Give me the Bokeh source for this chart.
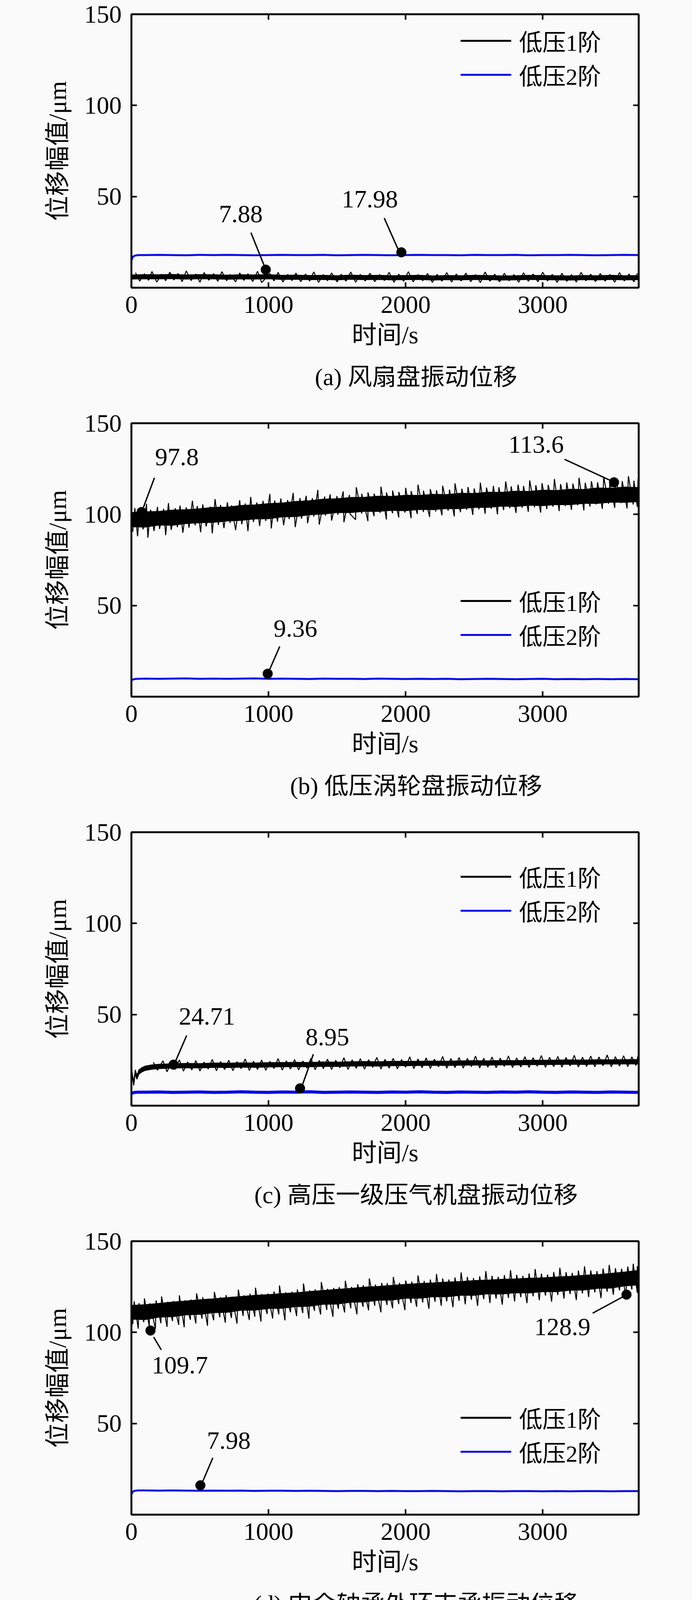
import numpy as np
from bokeh.plotting import figure
from bokeh.models import (Range1d, LinearAxis, FixedTicker, Legend, LegendItem)
from bokeh.layouts import column
from bokeh.embed import file_html
from bokeh.resources import INLINE
from bokeh.core.properties import value

FONT = "'Liberation Serif', 'Noto Sans CJK SC'"
BG = "#fafafa"
BLUE = "#0a0ae6"

# ---------------- data ----------------
x_ticks = [0, 1000, 2000, 3000]
y_ticks = [50, 100, 150]
x_title = "时间/s"
y_title = "位移幅值/μm"
series_names = ["低压1阶", "低压2阶"]
captions = ["(a) 风扇盘振动位移", "(b) 低压涡轮盘振动位移",
            "(c) 高压一级压气机盘振动位移", "(d) 中介轴承外环支承振动位移"]

t100 = list(range(0, 3701, 100))
blue_t = [0, 10, 25, 50] + list(range(100, 3701, 100))

# (a) fan disk -------------------------------------------------------------
a_lo = [4.7, 4.9, 4.8, 5.0, 4.7, 4.9, 4.8, 4.6, 4.8, 4.7, 4.9, 4.5, 4.6, 4.4, 4.5, 4.3, 4.6, 4.4, 4.5, 4.3,
        4.4, 4.5, 4.2, 4.4, 4.3, 4.5, 4.4, 4.2, 4.3, 4.5, 4.4, 4.3, 4.2, 4.4, 4.3, 4.5, 4.3, 4.4]
a_hi = [7.0, 7.2, 7.1, 7.3, 7.0, 7.2, 7.1, 6.9, 7.1, 7.0, 7.2, 6.8, 6.9, 6.7, 6.8, 6.6, 6.9, 6.7, 6.8, 6.6,
        6.7, 6.8, 6.5, 6.7, 6.6, 6.8, 6.7, 6.5, 6.6, 6.8, 6.7, 6.6, 6.5, 6.7, 6.6, 6.8, 6.6, 6.7]
a_up = [(30, 8.2), (95, 7.6), (150, 8.9), (220, 7.4), (280, 8.5), (340, 7.8), (400, 9.2), (470, 7.5),
        (530, 8.3), (600, 7.7), (660, 8.8), (720, 7.3), (790, 8.1), (850, 7.6), (920, 9.0), (1010, 7.7),
        (1070, 8.4), (1140, 7.3), (1200, 8.0), (1270, 7.5), (1330, 8.7), (1400, 7.2), (1460, 8.1),
        (1530, 7.4), (1600, 8.6), (1670, 7.3), (1740, 7.9), (1810, 7.2), (1880, 8.4), (1950, 7.4),
        (2020, 8.8), (2090, 7.2), (2160, 7.8), (2230, 7.3), (2300, 8.3), (2370, 7.5), (2440, 8.0),
        (2510, 7.2), (2580, 8.6), (2650, 7.4), (2720, 7.9), (2790, 7.2), (2860, 8.2), (2930, 7.5),
        (3000, 8.5), (3070, 7.3), (3140, 7.9), (3210, 7.2), (3280, 8.4), (3350, 7.4), (3420, 7.8),
        (3490, 7.3), (3560, 8.3), (3630, 7.5), (3690, 7.9)]
a_dn = [(60, 3.6), (125, 4.0), (185, 3.1), (250, 3.8), (310, 4.2), (370, 3.3), (435, 3.9), (500, 3.0),
        (565, 4.1), (630, 3.5), (695, 3.8), (760, 3.2), (820, 4.0), (885, 3.4), (950, 2.8), (1040, 3.7),
        (1105, 3.1), (1170, 3.9), (1235, 3.3), (1300, 3.6), (1365, 2.9), (1430, 3.8), (1500, 3.2),
        (1565, 3.6), (1635, 3.0), (1705, 3.7), (1775, 3.3), (1845, 3.9), (1915, 3.0), (1985, 3.5),
        (2055, 3.2), (2125, 3.8), (2195, 2.9), (2265, 3.6), (2335, 3.1), (2405, 3.7), (2475, 3.3),
        (2545, 2.8), (2615, 3.6), (2685, 3.2), (2755, 3.8), (2825, 3.0), (2895, 3.5), (2965, 3.2),
        (3035, 3.7), (3105, 2.9), (3175, 3.5), (3245, 3.1), (3315, 3.8), (3385, 3.3), (3455, 3.6),
        (3525, 3.0), (3595, 3.7), (3665, 3.2)]
a_blue = [14.8, 16.9, 17.6, 17.9,
          17.9, 18.0, 17.9, 17.8, 18.0, 17.9, 18.0, 17.9, 17.8, 17.9, 18.0, 17.9, 17.9, 18.0, 17.8, 17.9,
          18.0, 17.9, 17.8, 17.9, 18.0, 17.9, 17.9, 17.8, 18.0, 17.9, 17.9, 18.0, 17.8, 17.9, 17.9, 18.0,
          17.9, 17.8, 17.9, 18.0, 17.9]
a_mk_x = [980, 1969]
a_mk_y = [9.9, 19.4]
a_txt = ["7.88", "17.98"]
a_txt_x = [798, 1739]
a_txt_y = [40.4, 48.6]
a_ld = [(872, 30.2, 969, 12.0), (1844, 38.2, 1946, 20.9)]

# (b) LP turbine disk --------------------------------------------------------
b_lo = [93.2, 93.0, 94.1, 94.0, 95.0, 95.4, 95.6, 96.4, 96.7, 97.5, 97.6, 98.6, 98.8, 99.8, 100.2, 101.0,
        101.0, 101.7, 101.6, 102.2, 102.0, 102.7, 102.6, 103.2, 103.1, 103.8, 103.8, 104.5, 104.3, 105.0,
        104.8, 105.4, 105.3, 106.0, 106.0, 106.7, 106.6, 107.0]
b_hi = [101.0, 101.4, 101.6, 102.4, 102.6, 103.1, 103.9, 104.0, 104.9, 105.2, 105.9, 106.3, 107.1, 107.5,
        108.4, 108.6, 109.3, 109.4, 110.0, 109.9, 110.5, 110.4, 111.0, 110.9, 111.6, 111.5, 112.2, 112.1,
        112.7, 112.6, 113.3, 113.1, 113.8, 113.7, 114.5, 114.3, 115.0, 114.7]
b_up = [(25, 103.5), (60, 102.2), (110, 105.8), (140, 102.6), (190, 104.1), (235, 103.0), (270, 106.2),
        (320, 103.4), (355, 104.8), (400, 103.9), (445, 107.5), (480, 104.6), (520, 105.5), (575, 104.3),
        (610, 108.4), (650, 105.2), (700, 106.6), (730, 105.0), (790, 107.8), (830, 106.0), (870, 109.6),
        (915, 106.5), (960, 107.4), (1010, 111.2), (1045, 107.6), (1090, 108.7), (1140, 107.9),
        (1180, 111.8), (1230, 109.0), (1275, 110.2), (1320, 108.9), (1360, 113.4), (1410, 109.8),
        (1450, 111.0), (1500, 110.1), (1545, 112.6), (1590, 110.7), (1640, 114.9), (1680, 111.3),
        (1725, 112.1), (1770, 111.4), (1820, 115.2), (1860, 112.0), (1905, 113.1), (1950, 112.3),
        (2000, 114.6), (2040, 112.8), (2090, 116.3), (2130, 113.0), (2180, 113.9), (2225, 113.2),
        (2270, 115.7), (2320, 113.6), (2360, 117.0), (2410, 114.1), (2455, 115.0), (2500, 114.2),
        (2545, 117.4), (2590, 114.7), (2640, 115.6), (2680, 114.9), (2730, 118.1), (2770, 115.4),
        (2820, 116.3), (2860, 115.6), (2905, 118.6), (2950, 116.0), (2995, 117.1), (3040, 116.2),
        (3085, 119.4), (3130, 116.6), (3175, 117.5), (3220, 116.9), (3265, 120.1), (3310, 117.3),
        (3355, 118.2), (3400, 117.6), (3445, 120.6), (3490, 117.9), (3535, 119.0), (3580, 118.2),
        (3625, 121.0), (3665, 118.5), (3695, 119.4)]
b_dn = [(10, 90.5), (45, 88.0), (85, 91.8), (120, 87.2), (165, 90.9), (205, 92.0), (250, 88.6), (290, 91.5),
        (335, 93.0), (375, 89.9), (420, 92.7), (465, 94.0), (505, 90.2), (545, 93.4), (590, 89.6),
        (635, 94.2), (675, 92.5), (720, 95.3), (760, 91.4), (805, 94.6), (850, 90.8), (890, 95.8),
        (935, 93.6), (980, 96.4), (1020, 92.3), (1065, 96.0), (1110, 94.1), (1150, 97.4), (1195, 93.0),
        (1240, 97.6), (1285, 95.2), (1330, 98.8), (1370, 94.4), (1415, 99.3), (1460, 96.6), (1505, 99.8),
        (1550, 95.7), (1595, 100.2), (1635, 97.1), (1680, 100.4), (1725, 96.3), (1770, 99.0),
        (1815, 100.9), (1860, 97.2), (1905, 100.6), (1950, 98.3), (1995, 101.0), (2040, 97.9),
        (2085, 100.2), (2130, 101.3), (2175, 98.6), (2220, 101.6), (2265, 99.5), (2310, 102.0),
        (2355, 98.9), (2400, 101.2), (2445, 102.5), (2490, 99.7), (2535, 102.8), (2580, 100.3),
        (2625, 103.1), (2670, 100.0), (2715, 102.4), (2760, 103.4), (2805, 100.8), (2850, 103.6),
        (2895, 101.4), (2940, 103.9), (2985, 101.0), (3030, 102.9), (3075, 104.2), (3120, 101.8),
        (3165, 104.6), (3210, 102.5), (3255, 105.0), (3300, 102.2), (3345, 104.3), (3390, 105.5),
        (3435, 103.0), (3480, 105.8), (3525, 103.6), (3570, 106.2), (3615, 103.3), (3660, 105.4),
        (3690, 104.1)]
b_blue = [8.8, 9.4, 9.7, 9.8,
          9.9, 9.8, 9.9, 10.0, 9.8, 9.9, 9.8, 9.9, 10.0, 9.8, 9.9, 9.8, 9.7, 9.9, 9.8, 9.8, 9.7, 9.9, 9.8,
          9.7, 9.8, 9.7, 9.8, 9.6, 9.7, 9.8, 9.7, 9.6, 9.7, 9.8, 9.6, 9.7, 9.6, 9.7, 9.6, 9.7, 9.6]
b_mk_x = [74, 3520, 994]
b_mk_y = [101.3, 117.6, 12.6]
b_txt = ["97.8", "113.6", "9.36"]
b_txt_x = [332, 2952, 1196]
b_txt_y = [131.5, 138.4, 37.5]
b_ld = [(168, 120.1, 88, 103.9), (3159, 130.2, 3500, 118.4), (1082, 27.6, 1006, 14.5)]

# (c) HP compressor stage-1 disk --------------------------------------------
c_t = [0, 8, 17, 28, 40, 55, 75, 100, 150, 200] + list(range(300, 3701, 100))
c_lo = [19.5, 14.8, 11.0, 17.3, 14.5, 17.3, 18.4, 19.3, 20.0, 20.3,
        20.6, 20.8, 20.7, 21.0, 20.9, 21.1, 21.0, 21.2, 21.3, 21.4, 21.3, 21.6, 21.5, 21.7, 21.8, 21.7,
        21.9, 21.9, 22.0, 22.1, 22.0, 22.2, 22.3, 22.2, 22.4, 22.3, 22.5, 22.5, 22.6, 22.7, 22.6, 22.8,
        22.8, 22.9, 22.9]
c_hi = [21.5, 17.0, 13.2, 19.7, 16.7, 19.7, 20.8, 21.7, 22.4, 22.7,
        23.0, 23.2, 23.1, 23.4, 23.3, 23.5, 23.4, 23.6, 23.7, 23.8, 23.7, 24.0, 23.9, 24.1, 24.2, 24.1,
        24.3, 24.3, 24.4, 24.5, 24.4, 24.6, 24.7, 24.6, 24.8, 24.7, 24.9, 24.9, 25.0, 25.1, 25.0, 25.2,
        25.2, 25.3, 25.3]
c_up = [(160, 23.8), (230, 24.6), (290, 23.6), (350, 25.1), (410, 24.0), (470, 24.7), (530, 23.9),
        (590, 25.4), (650, 24.2), (710, 24.9), (770, 24.1), (830, 25.6), (890, 24.4), (950, 25.0),
        (1010, 24.3), (1070, 25.8), (1130, 24.6), (1190, 25.3), (1250, 24.5), (1310, 26.0), (1370, 24.8),
        (1430, 25.5), (1490, 24.9), (1550, 26.3), (1610, 25.1), (1670, 25.8), (1730, 25.2), (1790, 26.5),
        (1850, 25.4), (1910, 26.0), (1970, 25.3), (2030, 26.8), (2090, 25.6), (2150, 26.2), (2210, 25.5),
        (2270, 27.0), (2330, 25.8), (2390, 26.4), (2450, 25.9), (2510, 27.2), (2570, 26.0), (2630, 26.7),
        (2690, 26.1), (2750, 27.3), (2810, 26.2), (2870, 26.9), (2930, 26.3), (2990, 27.5), (3050, 26.5),
        (3110, 27.0), (3170, 26.4), (3230, 27.6), (3290, 26.6), (3350, 27.2), (3410, 26.7), (3470, 27.8),
        (3530, 26.9), (3590, 27.4), (3650, 26.8), (3695, 27.3)]
c_dn = [(190, 19.4), (260, 18.6), (320, 19.9), (380, 18.9), (440, 19.6), (500, 19.0), (560, 20.1),
        (620, 19.1), (680, 19.8), (740, 19.2), (800, 20.3), (860, 19.3), (920, 19.9), (980, 19.4),
        (1040, 20.4), (1100, 19.5), (1160, 20.1), (1220, 19.6), (1280, 20.6), (1340, 19.7), (1400, 20.3),
        (1460, 19.8), (1520, 20.8), (1580, 19.9), (1640, 20.5), (1700, 20.0), (1760, 21.0), (1820, 20.1),
        (1880, 20.6), (1940, 20.2), (2000, 21.1), (2060, 20.3), (2120, 20.8), (2180, 20.4), (2240, 21.3),
        (2300, 20.5), (2360, 20.9), (2420, 20.6), (2480, 21.4), (2540, 20.7), (2600, 21.1), (2660, 20.8),
        (2720, 21.5), (2780, 20.9), (2840, 21.2), (2900, 21.0), (2960, 21.7), (3020, 21.0), (3080, 21.4),
        (3140, 21.1), (3200, 21.8), (3260, 21.2), (3320, 21.5), (3380, 21.3), (3440, 21.9), (3500, 21.3),
        (3560, 21.7), (3620, 21.4), (3680, 22.0)]
c_blue = [6.6, 7.0, 7.3, 7.4,
          7.4, 7.5, 7.3, 7.4, 7.5, 7.3, 7.4, 7.6, 7.4, 7.3, 7.5, 7.4, 7.6, 7.3, 7.4, 7.5, 7.4, 7.3, 7.5,
          7.4, 7.6, 7.4, 7.3, 7.5, 7.4, 7.3, 7.5, 7.4, 7.6, 7.4, 7.3, 7.5, 7.4, 7.3, 7.5, 7.4, 7.3]
c_mk_x = [307, 1230]
c_mk_y = [22.5, 9.5]
c_txt = ["24.71", "8.95"]
c_txt_x = [551, 1429]
c_txt_y = [49.0, 37.7]
c_ld = [(403, 38.5, 321, 24.2), (1327, 28.2, 1244, 10.7)]

# (d) intershaft bearing outer-ring support ----------------------------------
d_lo = [107.2, 107.0, 108.3, 108.6, 109.6, 109.9, 110.8, 111.0, 112.1, 112.2, 113.1, 113.2, 114.1, 114.3,
        115.4, 115.5, 116.5, 116.7, 117.6, 117.7, 118.7, 118.7, 119.5, 119.5, 120.3, 120.3, 121.1, 121.0,
        121.7, 121.6, 122.3, 122.3, 123.1, 123.2, 124.1, 124.3, 125.5, 126.0]
d_hi = [114.8, 115.2, 115.9, 116.6, 117.2, 117.9, 118.4, 119.1, 119.7, 120.3, 120.7, 121.3, 121.7, 122.4,
        123.0, 123.6, 124.1, 124.8, 125.2, 125.8, 126.3, 126.8, 127.1, 127.6, 127.9, 128.4, 128.7, 129.1,
        129.3, 129.7, 129.9, 130.4, 130.7, 131.3, 131.7, 132.4, 133.1, 134.0]
d_up = [(20, 117.0), (55, 116.0), (95, 118.6), (135, 115.9), (180, 117.5), (220, 119.7), (265, 116.8),
        (305, 117.2), (350, 120.3), (390, 117.6), (435, 118.0), (475, 121.4), (520, 119.3), (560, 118.5),
        (605, 122.2), (650, 119.3), (690, 120.4), (735, 119.6), (780, 123.4), (820, 120.3), (865, 121.2),
        (905, 124.5), (950, 121.0), (995, 121.3), (1040, 122.4), (1080, 125.7), (1125, 122.0), (1170, 122.3),
        (1210, 123.5), (1255, 126.8), (1300, 123.1), (1340, 123.6), (1385, 127.6), (1430, 123.9),
        (1475, 124.4), (1515, 124.8), (1560, 128.3), (1605, 125.0), (1650, 126.4), (1690, 125.9),
        (1735, 129.6), (1780, 126.2), (1825, 127.1), (1865, 127.0), (1910, 130.4), (1955, 127.2),
        (2000, 128.4), (2045, 127.8), (2090, 131.2), (2135, 128.2), (2180, 129.0), (2225, 132.0),
        (2270, 129.6), (2315, 129.0), (2360, 130.1), (2405, 132.9), (2450, 130.4), (2495, 129.8),
        (2540, 130.7), (2585, 133.6), (2630, 131.0), (2675, 130.5), (2720, 131.4), (2765, 134.1),
        (2810, 131.6), (2855, 131.0), (2900, 132.3), (2945, 134.7), (2990, 132.2), (3035, 131.7),
        (3080, 133.1), (3125, 135.4), (3170, 133.0), (3215, 132.6), (3260, 133.9), (3305, 136.2),
        (3350, 134.0), (3395, 133.6), (3440, 135.0), (3485, 137.0), (3530, 135.2), (3575, 134.9),
        (3620, 136.1), (3660, 137.6), (3690, 136.3)]
d_dn = [(10, 104.5), (50, 102.0), (90, 105.6), (130, 103.4), (175, 101.9), (215, 105.0), (260, 103.0),
        (300, 106.2), (345, 104.1), (385, 102.8), (430, 106.9), (470, 104.9), (515, 107.5), (555, 103.6),
        (600, 106.6), (645, 108.2), (685, 105.3), (730, 107.9), (770, 104.8), (815, 109.0), (860, 106.8),
        (900, 108.6), (945, 105.9), (990, 110.1), (1030, 107.6), (1075, 109.9), (1120, 106.6),
        (1160, 111.0), (1205, 108.9), (1250, 110.6), (1295, 107.5), (1335, 111.8), (1380, 109.8),
        (1425, 112.3), (1470, 108.6), (1510, 112.9), (1555, 110.9), (1600, 113.2), (1645, 109.9),
        (1690, 114.0), (1730, 112.1), (1775, 114.6), (1820, 111.0), (1865, 115.0), (1905, 113.2),
        (1950, 115.5), (1995, 112.2), (2040, 116.1), (2080, 114.0), (2125, 116.4), (2170, 112.9),
        (2215, 116.8), (2260, 114.6), (2300, 117.0), (2345, 113.8), (2390, 117.3), (2435, 115.4),
        (2480, 117.9), (2525, 114.5), (2570, 118.2), (2615, 116.1), (2660, 118.5), (2705, 115.2),
        (2750, 118.9), (2795, 117.0), (2840, 119.3), (2885, 116.0), (2930, 119.8), (2975, 117.6),
        (3020, 120.2), (3065, 116.8), (3110, 120.5), (3155, 118.5), (3200, 121.0), (3245, 117.7),
        (3290, 121.4), (3335, 119.4), (3380, 121.9), (3425, 118.8), (3470, 122.3), (3515, 120.6),
        (3560, 123.0), (3605, 119.9), (3650, 123.5), (3690, 121.6)]
d_blue = [11.0, 12.6, 13.1, 13.3,
          13.3, 13.2, 13.3, 13.2, 13.1, 13.2, 13.1, 13.2, 13.0, 13.1, 13.1, 13.0, 13.1, 13.0, 12.9, 13.0,
          13.0, 12.9, 13.0, 12.9, 12.9, 13.0, 12.9, 12.8, 12.9, 12.9, 12.8, 12.9, 12.9, 12.8, 12.9, 12.8,
          12.9, 12.9, 12.8, 12.9, 12.9]
d_mk_x = [139, 3611, 503]
d_mk_y = [101.0, 120.7, 16.1]
d_txt = ["109.7", "128.9", "7.98"]
d_txt_x = [353, 3143, 710]
d_txt_y = [81.9, 102.9, 40.7]
d_ld = [(218, 90.4, 162, 97.4), (3364, 110.5, 3585, 119.5), (594, 31.2, 520, 18.2)]

panels = [
    dict(cap=captions[0], t=t100, lo=a_lo, hi=a_hi, up=a_up, dn=a_dn, blue=a_blue, bw=5,
         mx=a_mk_x, my=a_mk_y, txt=a_txt, tx=a_txt_x, ty=a_txt_y, ld=a_ld, leg_y=502),
    dict(cap=captions[1], t=t100, lo=b_lo, hi=b_hi, up=b_up, dn=b_dn, blue=b_blue, bw=5,
         mx=b_mk_x, my=b_mk_y, txt=b_txt, tx=b_txt_x, ty=b_txt_y, ld=b_ld, leg_y=115),
    dict(cap=captions[2], t=c_t, lo=c_lo, hi=c_hi, up=c_up, dn=c_dn, blue=c_blue, bw=8,
         mx=c_mk_x, my=c_mk_y, txt=c_txt, tx=c_txt_x, ty=c_txt_y, ld=c_ld, leg_y=456),
    dict(cap=captions[3], t=t100, lo=d_lo, hi=d_hi, up=d_up, dn=d_dn, blue=d_blue, bw=5,
         mx=d_mk_x, my=d_mk_y, txt=d_txt, tx=d_txt_x, ty=d_txt_y, ld=d_ld, leg_y=118),
]

FRAME_W, FRAME_H = 1299, 700
# the x-axis panel (tick labels + axis title) needs about 199 px below the frame
BORDER_L, BORDER_R, BORDER_T, BORDER_B = 336, 121, 36, 200
FIG_W = BORDER_L + FRAME_W + BORDER_R
STRIP_H = [111, 111, 111, 62]      # caption strip under each chart
CAPTION_FROM_TOP = 28              # caption centre, from strip top


def style_axis(ax, labels=True):
    ax.axis_line_width = 4.5
    ax.axis_line_color = "black"
    ax.major_tick_in = 14
    ax.major_tick_out = 0
    ax.major_tick_line_width = 4
    ax.minor_tick_line_color = None
    if labels:
        ax.major_label_text_font = FONT
        ax.major_label_text_font_size = "64px"
        ax.major_label_text_color = "black"
        ax.axis_label_text_font = FONT
        ax.axis_label_text_font_size = "64px"
        ax.axis_label_text_font_style = "normal"
        ax.axis_label_text_color = "black"
    else:
        ax.major_label_text_font_size = "10px"
        ax.major_label_text_color = None
        ax.major_label_standoff = 0


children = []
for i, pd_ in enumerate(panels):
    p = figure(frame_width=FRAME_W, frame_height=FRAME_H,
               min_border_left=BORDER_L, min_border_right=BORDER_R,
               min_border_top=BORDER_T, min_border_bottom=BORDER_B,
               x_range=Range1d(0, 3700), y_range=Range1d(0, 150),
               output_backend="svg", toolbar_location=None,
               background_fill_color=BG, border_fill_color=BG)
    p.grid.visible = False
    p.outline_line_color = "black"
    p.outline_line_width = 4.5

    p.xaxis.ticker = FixedTicker(ticks=x_ticks)
    p.yaxis.ticker = FixedTicker(ticks=y_ticks)
    p.xaxis.axis_label = x_title
    p.yaxis.axis_label = y_title
    style_axis(p.xaxis[0])
    style_axis(p.yaxis[0])
    p.xaxis.major_label_standoff = 22
    p.xaxis.axis_label_standoff = 18
    p.yaxis.major_label_standoff = 25
    p.yaxis.axis_label_standoff = 30

    top = LinearAxis(ticker=FixedTicker(ticks=x_ticks))
    style_axis(top, labels=False)
    p.add_layout(top, "above")
    right = LinearAxis(ticker=FixedTicker(ticks=y_ticks))
    style_axis(right, labels=False)
    p.add_layout(right, "right")

    # blue: 2nd order
    p.line(blue_t, pd_["blue"], line_color=BLUE, line_width=pd_["bw"])

    # black: 1st order (dense noisy trace: core band + noisy excursions)
    t = np.array(pd_["t"], dtype=float)
    lo = np.array(pd_["lo"], dtype=float)
    hi = np.array(pd_["hi"], dtype=float)
    p.varea(x=t, y1=lo, y2=hi, fill_color="black")
    p.line(t, lo, line_color="black", line_width=2)
    p.line(t, hi, line_color="black", line_width=2)
    spikes = sorted(pd_["up"] + pd_["dn"])
    st = np.array([s[0] for s in spikes], dtype=float)
    sy = np.array([s[1] for s in spikes], dtype=float)
    p.line(st, sy, line_color="black", line_width=2.5)

    # annotations
    ld = pd_["ld"]
    p.segment(x0=[a[0] for a in ld], y0=[a[1] for a in ld], x1=[a[2] for a in ld], y1=[a[3] for a in ld],
              line_color="black", line_width=3.5)
    p.scatter(pd_["mx"], pd_["my"], size=25, marker="circle", fill_color="black", line_color="black")
    p.text(x=pd_["tx"], y=pd_["ty"], text=pd_["txt"], text_align="center", text_baseline="middle",
           text_font=value(FONT), text_font_size="64px", text_color="black")

    # legend (proxy lines placed outside the visible range)
    r1 = p.line(x=[-500, -400], y=[-50, -50], line_color="black", line_width=5)
    r2 = p.line(x=[-500, -400], y=[-50, -50], line_color=BLUE, line_width=5)
    leg = Legend(items=[LegendItem(label=series_names[0], renderers=[r1]),
                        LegendItem(label=series_names[1], renderers=[r2])],
                 location=(843, pd_["leg_y"]), orientation="vertical",
                 glyph_width=130, glyph_height=86, label_height=86, label_standoff=20,
                 spacing=0, padding=0, margin=0,
                 border_line_color=None, background_fill_alpha=0,
                 label_text_font=FONT, label_text_font_size="60px", label_text_color="black")
    p.add_layout(leg)
    children.append(p)

    # caption strip under the chart
    h = STRIP_H[i]
    c = figure(width=FIG_W, height=h, x_range=Range1d(0, FIG_W), y_range=Range1d(0, h),
               min_border=0, x_axis_type=None, y_axis_type=None,
               output_backend="svg", toolbar_location=None,
               background_fill_color=BG, border_fill_color=BG)
    c.grid.visible = False
    c.outline_line_color = None
    c.text(x=[BORDER_L + FRAME_W / 2], y=[h - CAPTION_FROM_TOP], text=[pd_["cap"]],
           text_align="center", text_baseline="middle",
           text_font=value(FONT), text_font_size="62px", text_color="black")
    children.append(c)

layout = column(*children, spacing=0, background=BG)
html = file_html(layout, INLINE, title="振动位移")
html = html.replace("<body>", '<body style="background-color:%s;">' % BG)
open("out.html", "w").write(html)
